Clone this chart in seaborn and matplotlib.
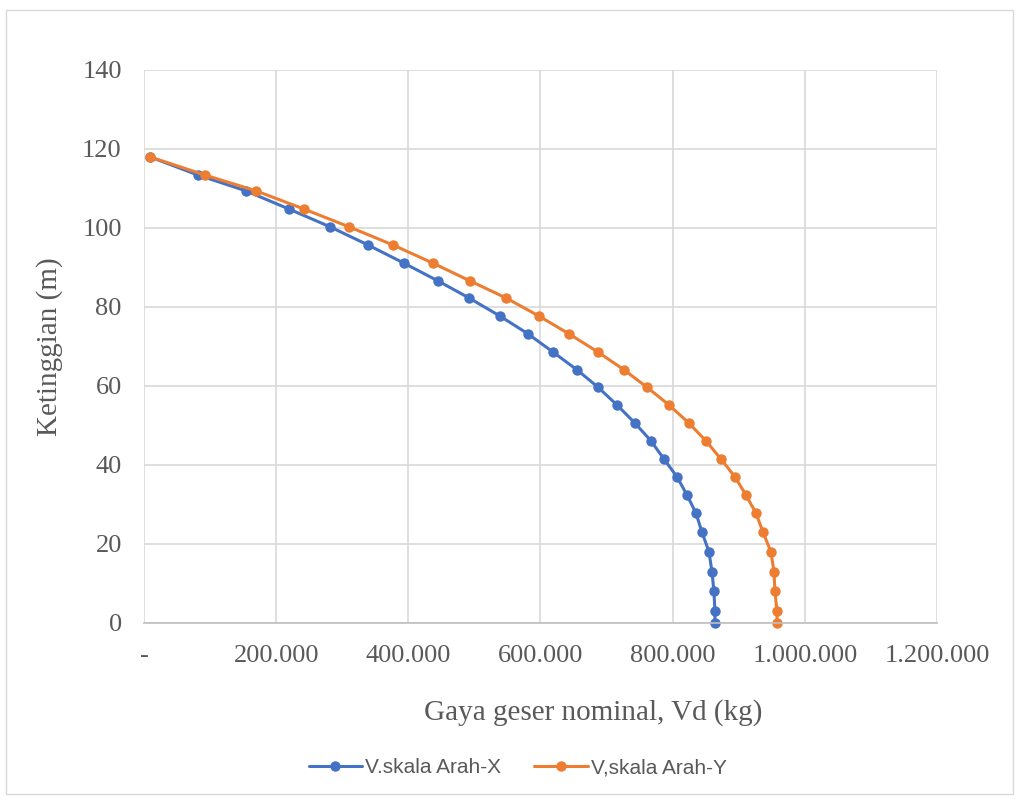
import matplotlib
matplotlib.use("Agg")
import matplotlib.pyplot as plt
from matplotlib.patches import Rectangle
from matplotlib.ticker import FuncFormatter
import pandas as pd
import seaborn as sns

# Data
ketinggian = [0, 3, 8, 13, 18, 23, 27.8, 32.4, 37, 41.5, 46.1, 50.6, 55.2, 59.7,
              64.1, 68.6, 73.2, 77.7, 82.3, 86.6, 91.1, 95.7, 100.3, 104.8,
              109.4, 113.4, 118]
gaya_x = [864000, 864000, 862500, 859500, 855000, 844400, 835300, 821700,
          806600, 786900, 767200, 743000, 715700, 687000, 655200, 618900,
          581100, 538700, 491800, 444900, 393400, 339000, 281500, 219400,
          154300, 81700, 9080]
gaya_y = [957900, 957900, 954800, 953300, 948800, 936700, 926100, 910900,
          894300, 873100, 850400, 824700, 794400, 761100, 726300, 687000,
          643100, 597700, 547800, 493300, 437300, 376800, 310200, 242100,
          169500, 92300, 9080]
labels = ["V.skala Arah-X", "V,skala Arah-Y"]
colors = ["#4472C4", "#ED7D31"]

df = pd.concat([
    pd.DataFrame({"Vd": gaya_x, "h": ketinggian, "seri": labels[0]}),
    pd.DataFrame({"Vd": gaya_y, "h": ketinggian, "seri": labels[1]}),
])

sns.set_theme(style="white")
plt.rcParams["font.family"] = ["Liberation Serif", "DejaVu Serif"]

fig = plt.figure(figsize=(10.19, 7.99), dpi=100)
ax = fig.add_axes([0.1413, 0.2203, 0.7782, 0.6921])

sns.lineplot(data=df, x="Vd", y="h", hue="seri", palette=colors,
             marker="o", markersize=7.5, markeredgewidth=0, linewidth=2.2,
             sort=False, estimator=None, ax=ax, legend=True)
for ln in ax.lines:
    ln.set_clip_on(False)

ax.set_xlim(0, 1200000)
ax.set_ylim(0, 140)
ax.set_xticks(range(0, 1200001, 200000))
ax.set_yticks(range(0, 141, 20))


def fmt_ribuan(v, pos):
    if v == 0:
        return "-"
    return f"{int(v):,}".replace(",", ".")


ax.xaxis.set_major_formatter(FuncFormatter(fmt_ribuan))
ax.grid(True, color="#D9D9D9", linewidth=1.2)
ax.set_axisbelow(True)
for side in ["top", "right", "left"]:
    ax.spines[side].set_visible(False)
ax.spines["bottom"].set_color("#BFBFBF")
ax.spines["bottom"].set_linewidth(1.2)
ax.tick_params(axis="both", length=0, colors="#595959")
ax.tick_params(axis="x", labelsize=19, pad=16)
ax.tick_params(axis="y", labelsize=19, pad=16)

# judul sumbu x agak ke kanan, seperti di gambar asli
ax.set_xlabel("Gaya geser nominal, Vd (kg)", fontsize=21, color="#595959",
              labelpad=23, x=0.566)
ax.set_ylabel("Ketinggian (m)", fontsize=21, color="#595959", labelpad=14)

handles, _ = ax.get_legend_handles_labels()
ax.legend(handles=handles, labels=labels, loc="center",
          bbox_to_anchor=(0.508, 0.039), bbox_transform=fig.transFigure,
          ncol=2, frameon=False, handlelength=2.55, handletextpad=0.15,
          columnspacing=1.6, prop={"family": "Liberation Sans", "size": 15},
          labelcolor="#595959")

fig.patches.append(Rectangle((0.006, 0.006), 0.988, 0.982,
                             transform=fig.transFigure, fill=False,
                             edgecolor="#D9D9D9", linewidth=1))

fig.savefig("out.png", dpi=100)
